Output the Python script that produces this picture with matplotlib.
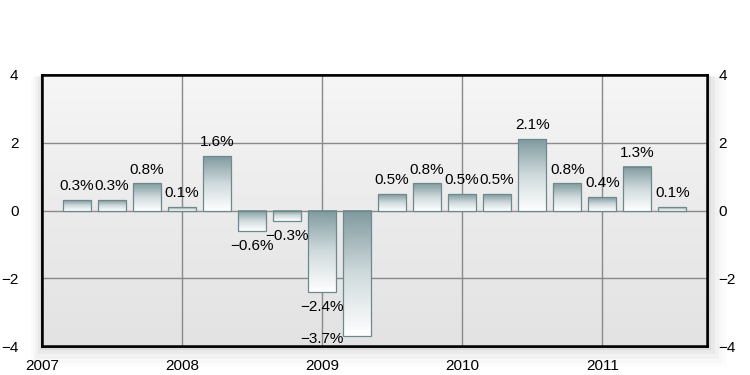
import numpy as np
import matplotlib
matplotlib.use("Agg")
import matplotlib.pyplot as plt
from matplotlib.colors import LinearSegmentedColormap
from matplotlib.patches import FancyBboxPatch

plt.rcParams['font.family'] = ['Liberation Sans', 'DejaVu Sans']

# quarterly growth, first bar at 2007.25
quarters = [2007.25 + 0.25 * i for i in range(18)]
growth = [0.3, 0.3, 0.8, 0.1, 1.6, -0.6, -0.3, -2.4, -3.7,
          0.5, 0.8, 0.5, 0.5, 2.1, 0.8, 0.4, 1.3, 0.1]
labels = ["0.3%", "0.3%", "0.8%", "0.1%", "1.6%", "\u22120.6%", "\u22120.3%", "\u22122.4%", "\u22123.7%",
          "0.5%", "0.8%", "0.5%", "0.5%", "2.1%", "0.8%", "0.4%", "1.3%", "0.1%"]
years = [2007, 2008, 2009, 2010, 2011]
yticks = [-4, -2, 0, 2, 4]
yticklabels = ["\u22124", "\u22122", "0", "2", "4"]

fig = plt.figure(figsize=(7.5, 3.75), dpi=100)
ax = fig.add_axes([0.056, 0.077, 0.887, 0.723])
ax.set_zorder(2)

# soft drop shadow behind the plot box
for i, a in enumerate([0.05, 0.035, 0.025, 0.015, 0.01]):
    pad = 0.005 * (i + 1)
    fig.patches.append(FancyBboxPatch((0.056 - pad * 0.6, 0.077 - pad * 2.2), 0.887 + pad * 1.6, 0.723 + pad * 2,
                                      boxstyle="square,pad=0", transform=fig.transFigure,
                                      facecolor="black", edgecolor="none", alpha=a, zorder=-5))

ax.set_xlim(2007, 2011.75)
ax.set_ylim(-4, 4)

# background gradient
bg = LinearSegmentedColormap.from_list("bg", ["#e3e3e3", "#ebebeb", "#f6f6f6"])
ax.imshow(np.linspace(0, 1, 100).reshape(-1, 1), cmap=bg, origin="lower", aspect="auto",
          extent=[0, 1, 0, 1], transform=ax.transAxes, zorder=0)

for y in [-2, 0, 2]:
    ax.axhline(y, color="#8a8a8a", lw=1, zorder=1)
for x in years[1:]:
    ax.axvline(x, color="#8a8a8a", lw=1, zorder=1)

# bars with vertical gradient (dark top -> white bottom)
cm = LinearSegmentedColormap.from_list("bar", ["#ffffff", "#cfdadc", "#809a9f"])
bars = ax.bar(quarters, growth, width=0.2, facecolor="none", edgecolor="#6e898e", lw=0.9, zorder=3)
grad = np.linspace(0, 1, 100).reshape(-1, 1)
for b in bars:
    x0, y0 = b.get_x(), b.get_y()
    w, h = b.get_width(), b.get_height()
    yb, yt = min(y0, y0 + h), max(y0, y0 + h)
    ax.imshow(grad, cmap=cm, origin="lower", aspect="auto",
              extent=[x0, x0 + w, yb, yt], zorder=2)

# value labels
fs = 11
for i, (x, v, t) in enumerate(zip(quarters, growth, labels)):
    if v >= 0:
        ax.annotate(t, (x, v), xytext=(0, 5), textcoords="offset points",
                    ha="center", va="bottom", fontsize=fs, zorder=4)
    elif v < -3:
        ax.annotate(t, (x - 0.25, v), xytext=(0, -2), textcoords="offset points",
                    ha="center", va="center", fontsize=fs, zorder=4)
    else:
        ax.annotate(t, (x, v), xytext=(0, -6), textcoords="offset points",
                    ha="center", va="top", fontsize=fs, zorder=4)

ax.set_xticks(years)
ax.set_xticklabels([str(y) for y in years], fontsize=fs)
ax.set_yticks(yticks)
ax.set_yticklabels(yticklabels, fontsize=fs)
ax.tick_params(length=0)
ax.tick_params(axis="y", pad=17)
ax.tick_params(axis="x", pad=9)

# right-hand labels
ax2 = ax.twinx()
ax2.set_ylim(ax.get_ylim())
ax2.set_yticks(yticks)
ax2.set_yticklabels(yticklabels, fontsize=fs)
ax2.tick_params(length=0, pad=8)
ax2.set_zorder(1)

for a in (ax, ax2):
    for s in a.spines.values():
        s.set_color("black")
        s.set_linewidth(1.8)

fig.savefig("out.png", dpi=100, facecolor="white")
